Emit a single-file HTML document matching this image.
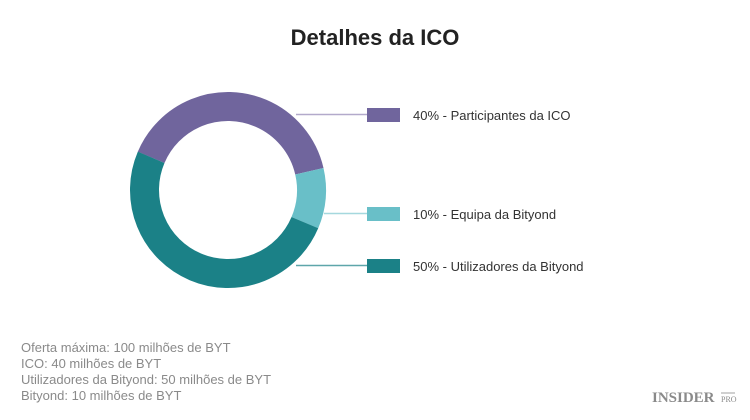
<!DOCTYPE html>
<html><head><meta charset="utf-8"><style>
html,body{margin:0;padding:0;background:#fff;}
body{width:750px;height:415px;overflow:hidden;}
</style></head><body>
<svg width="750" height="415" viewBox="0 0 750 415" xmlns="http://www.w3.org/2000/svg" font-family="Liberation Sans, sans-serif">
<text x="375" y="45" text-anchor="middle" font-size="22" font-weight="bold" fill="#222">Detalhes da ICO</text>
<g fill="none" stroke-width="29">
<circle cx="228" cy="190" r="83.5" stroke="#70659d" stroke-dasharray="209.8 600" transform="rotate(-157 228 190)"/>
<circle cx="228" cy="190" r="83.5" stroke="#69bfc8" stroke-dasharray="52.5 600" transform="rotate(-13 228 190)"/>
<circle cx="228" cy="190" r="83.5" stroke="#1b8187" stroke-dasharray="262.3 600" transform="rotate(23 228 190)"/>
</g>
<line x1="296" y1="114.5" x2="367" y2="114.5" stroke="#b3aacb" stroke-width="1.5"/>
<line x1="324" y1="213.5" x2="367" y2="213.5" stroke="#a5d8de" stroke-width="1.5"/>
<line x1="296" y1="265.5" x2="367" y2="265.5" stroke="#5ea6aa" stroke-width="1.5"/>
<rect x="367" y="108" width="33" height="14" fill="#70659d"/>
<rect x="367" y="207" width="33" height="14" fill="#69bfc8"/>
<rect x="367" y="259" width="33" height="14" fill="#1b8187"/>
<g font-size="13" fill="#333">
<text x="413" y="120">40% - Participantes da ICO</text>
<text x="413" y="219">10% - Equipa da Bityond</text>
<text x="413" y="271">50% - Utilizadores da Bityond</text>
</g>
<g font-size="13" fill="#8a8a8a">
<text x="21" y="352">Oferta máxima: 100 milhões de BYT</text>
<text x="21" y="368">ICO: 40 milhões de BYT</text>
<text x="21" y="384">Utilizadores da Bityond: 50 milhões de BYT</text>
<text x="21" y="400">Bityond: 10 milhões de BYT</text>
</g>
<text x="652" y="402" font-family="Liberation Serif, serif" font-weight="bold" font-size="15" fill="#8a8a8a">INSIDER</text>
<text x="721" y="402" font-family="Liberation Serif, serif" font-size="8" fill="#8a8a8a">PRO</text>
<line x1="721" y1="393" x2="735" y2="393" stroke="#8a8a8a" stroke-width="0.8"/>
</svg>
</body></html>
